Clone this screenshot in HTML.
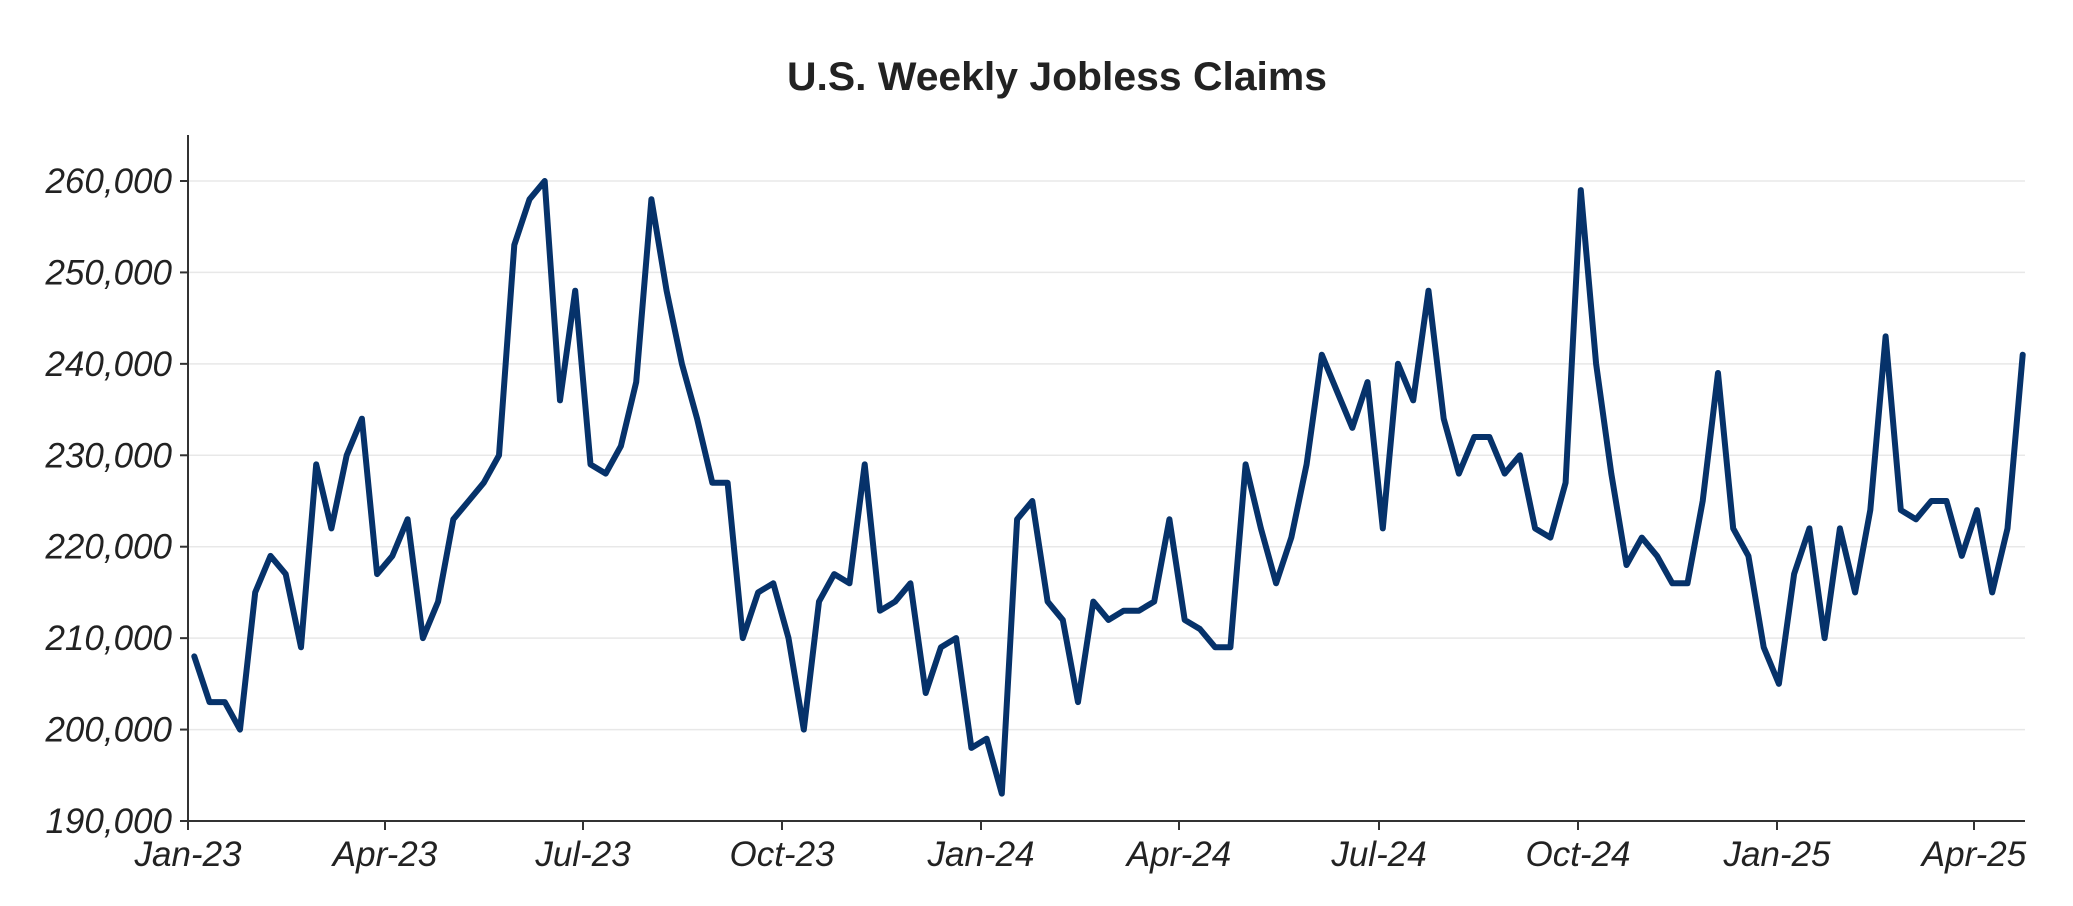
<!DOCTYPE html>
<html><head><meta charset="utf-8"><style>
html,body{margin:0;padding:0;background:#fff;}
svg{display:block;}
text{font-family:"Liberation Sans",sans-serif;fill:#222;}
</style></head><body>
<svg id="c" width="2073" height="906" viewBox="0 0 2073 906" xmlns="http://www.w3.org/2000/svg">
<text x="1057" y="90" text-anchor="middle" font-size="40" font-weight="bold" fill="#2a2a2a" textLength="540" lengthAdjust="spacingAndGlyphs">U.S. Weekly Jobless Claims</text>
<g id="grid" stroke="#e8e8e8" stroke-width="1.5"></g>
<g id="ylab" font-size="35" font-style="italic" text-anchor="end"></g>
<g id="xlab" font-size="35" font-style="italic" text-anchor="middle"></g>
<line x1="188" y1="135" x2="188" y2="822" stroke="#333" stroke-width="2"/>
<line x1="187" y1="821" x2="2025" y2="821" stroke="#333" stroke-width="2"/>
<polyline id="ln" fill="none" stroke="#06326a" stroke-width="6" stroke-linejoin="round" stroke-linecap="round"/>
</svg>
<script>
var ns="http://www.w3.org/2000/svg";
function Y(v){return 821-(v-190)*9.143;}
var g=document.getElementById('grid'),yl=document.getElementById('ylab'),xl=document.getElementById('xlab');
for(var v=190;v<=260;v+=10){
 var y=Y(v);
 if(v>190){var l=document.createElementNS(ns,'line');l.setAttribute('x1',188);l.setAttribute('x2',2025);l.setAttribute('y1',y);l.setAttribute('y2',y);g.appendChild(l);}
 var t=document.createElementNS(ns,'line');t.setAttribute('x1',180);t.setAttribute('x2',188);t.setAttribute('y1',y);t.setAttribute('y2',y);t.setAttribute('stroke','#333');t.setAttribute('stroke-width','2');g.appendChild(t);
 var tx=document.createElementNS(ns,'text');tx.setAttribute('x',172);tx.setAttribute('y',y+12);tx.textContent=v+',000';yl.appendChild(tx);
}
var xs=[188,385,583,782,981,1179,1379,1578,1777,1974];
var lb=['Jan-23','Apr-23','Jul-23','Oct-23','Jan-24','Apr-24','Jul-24','Oct-24','Jan-25','Apr-25'];
for(var i=0;i<xs.length;i++){
 var t=document.createElementNS(ns,'line');t.setAttribute('x1',xs[i]);t.setAttribute('x2',xs[i]);t.setAttribute('y1',821);t.setAttribute('y2',830);t.setAttribute('stroke','#333');t.setAttribute('stroke-width','2');g.appendChild(t);
 var tx=document.createElementNS(ns,'text');tx.setAttribute('x',xs[i]);tx.setAttribute('y',866);tx.textContent=lb[i];xl.appendChild(tx);
}
var d=[208,203,203,200,215,219,217,209,229,222,230,234,217,219,223,210,214,223,225,227,230,253,258,260,236,248,229,228,231,238,258,248,240,234,227,227,210,215,216,210,200,214,217,216,229,213,214,216,204,209,210,198,199,193,223,225,214,212,203,214,212,213,213,214,223,212,211,209,209,229,222,216,221,229,241,237,233,238,222,240,236,248,234,228,232,232,228,230,222,221,227,259,240,228,218,221,219,216,216,225,239,222,219,209,205,217,222,210,222,215,224,243,224,223,225,225,219,224,215,222,241];
var p=[];for(var i=0;i<d.length;i++){p.push((194.3+i*(2022.7-194.3)/(d.length-1)).toFixed(1)+','+Y(d[i]).toFixed(1));}
document.getElementById('ln').setAttribute('points',p.join(' '));
</script>
</body></html>
